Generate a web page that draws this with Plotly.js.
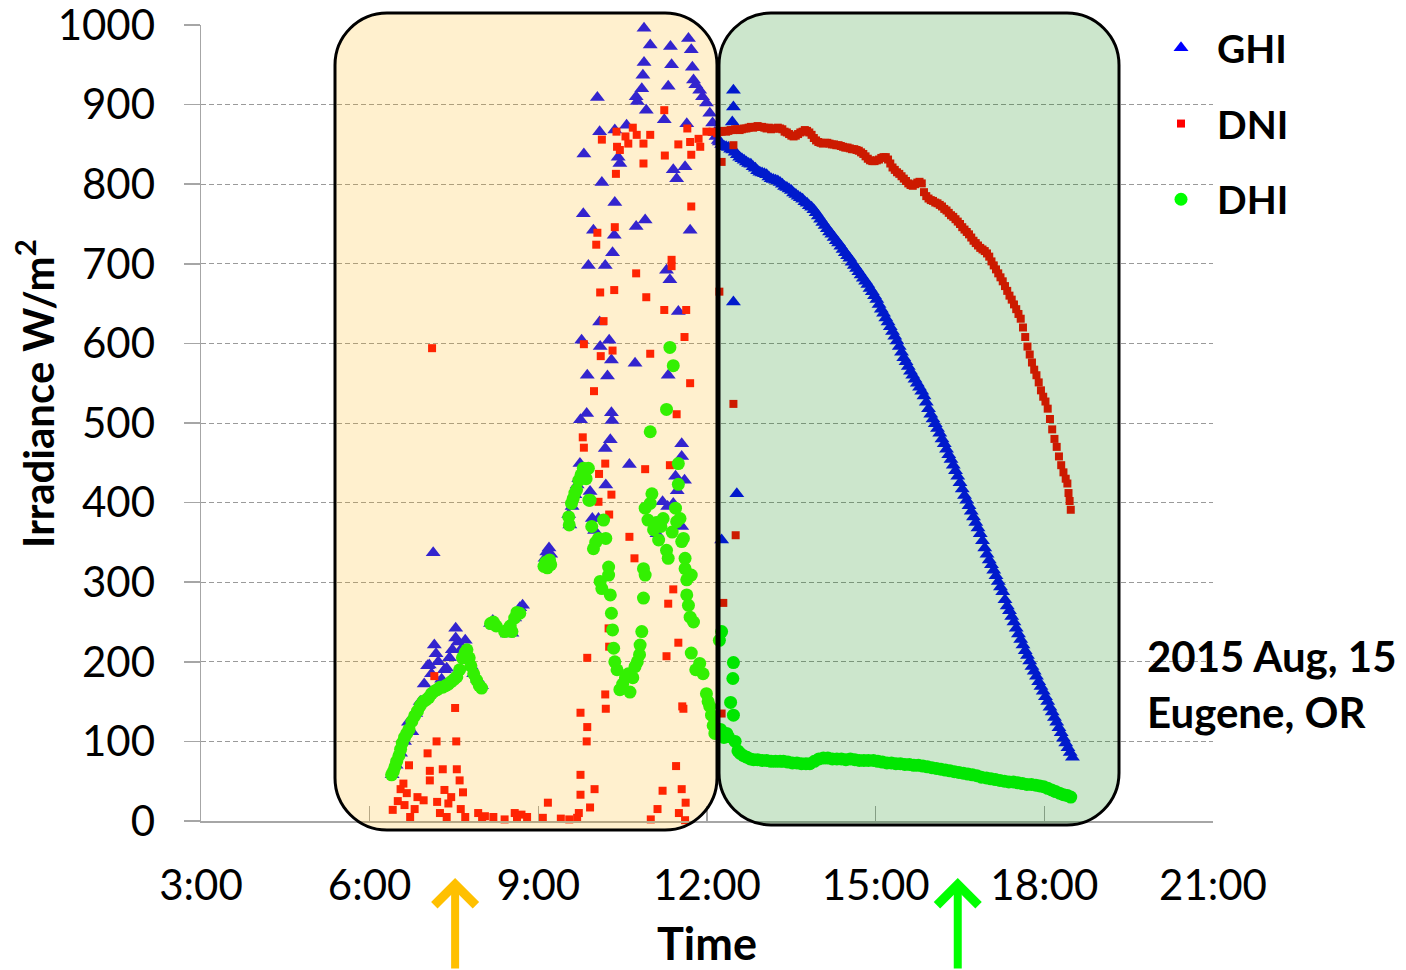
<!DOCTYPE html>
<html>
<head>
<meta charset="utf-8">
<script src="https://cdn.plot.ly/plotly-3.0.1.min.js"></script>
<style>html,body{margin:0;padding:0;background:#fff;}#chart{width:1406px;height:970px;}</style>
</head>
<body>
<div id="chart"></div>
<script>
// ---- tick labels ----
const xTickVals = [3, 6, 9, 12, 15, 18, 21];
const xTickText = ['3:00', '6:00', '9:00', '12:00', '15:00', '18:00', '21:00'];
const seriesNames = ['GHI', 'DNI', 'DHI'];

// ---- data: [time in decimal hours, irradiance W/m2] ----
const ghiPoints = [
 [6.40,58],[6.47,70],[6.55,85],[6.62,100],[6.69,124],[6.75,112],[6.82,135],[6.90,150],[6.97,172],[7.03,195],
 [7.06,196],[7.10,185],[7.13,337],[7.15,221],[7.18,210],[7.22,200],[7.28,178],[7.33,190],[7.37,192],[7.42,205],
 [7.47,215],[7.53,242],[7.53,230],[7.57,225],[7.62,215],[7.70,227],[7.73,205],[7.80,195],[7.85,185],[7.92,178],
 [7.99,170],[8.15,248],[8.19,252],[8.23,245],[8.45,235],[8.50,240],[8.53,236],[8.58,255],[8.62,262],[8.67,268],
 [8.72,271],[9.12,330],[9.15,338],[9.19,343],[9.22,335],[9.54,385],[9.56,372],[9.60,395],[9.65,410],[9.69,422],
 [9.72,430],[9.74,449],[9.75,504],[9.77,604],[9.80,763],[9.81,838],[9.86,512],[9.87,560],[9.89,698],[9.92,414],
 [9.96,380],[9.98,742],[10.00,365],[10.05,909],[10.07,380],[10.09,866],[10.09,627],[10.10,596],[10.13,802],[10.19,698],
 [10.19,468],[10.20,422],[10.23,559],[10.26,604],[10.28,479],[10.30,579],[10.30,513],[10.31,503],[10.32,714],[10.35,736],
 [10.36,868],[10.36,777],[10.42,834],[10.45,826],[10.57,874],[10.62,448],[10.72,575],[10.74,910],[10.74,747],[10.76,904],
 [10.84,920],[10.86,937],[10.88,953],[10.88,996],[10.90,755],[10.92,893],[10.99,975],[11.11,361],[11.18,378],[11.21,401],
 [11.24,881],[11.28,692],[11.30,395],[11.31,923],[11.31,560],[11.34,680],[11.35,973],[11.37,950],[11.40,399],[11.40,818],
 [11.44,433],[11.46,807],[11.47,415],[11.49,640],[11.55,474],[11.55,458],[11.55,370],[11.60,428],[11.61,822],[11.64,876],
 [11.67,983],[11.70,742],[11.72,969],[11.74,947],[11.76,931],[11.80,925],[11.87,918],[11.92,910],[11.99,902],[12.05,889],
 [12.10,877],[12.14,865],[12.16,860],[12.20,855],[12.26,353],[12.45,878],[12.47,918],[12.47,897],[12.47,652],[12.53,411],
 [12.22,853],[12.26,850],[12.30,848],[12.34,847],[12.38,846],[12.42,844],[12.46,843],[12.50,840],[12.54,837],[12.58,834],
 [12.62,832],[12.66,830],[12.70,828],[12.74,826],[12.78,825],[12.82,822],[12.86,820],[12.90,817],[12.94,815],[12.98,814],
 [13.02,813],[13.06,812],[13.10,809],[13.14,807],[13.18,806],[13.22,805],[13.26,804],[13.30,802],[13.34,800],[13.38,797],
 [13.42,796],[13.46,794],[13.50,792],[13.54,789],[13.58,787],[13.62,785],[13.66,783],[13.70,781],[13.74,778],[13.78,776],
 [13.82,773],[13.86,771],[13.90,768],[13.94,764],[13.98,760],[14.02,756],[14.06,752],[14.10,748],[14.14,744],[14.18,740],
 [14.22,737],[14.26,733],[14.30,729],[14.34,726],[14.38,722],[14.42,718],[14.46,714],[14.50,710],[14.54,707],[14.58,702],
 [14.62,698],[14.66,694],[14.70,690],[14.74,686],[14.78,682],[14.82,678],[14.86,674],[14.90,669],[14.94,665],[14.98,660],
 [15.02,655],[15.06,649],[15.10,643],[15.14,638],[15.18,632],[15.22,627],[15.26,621],[15.30,615],[15.34,609],[15.38,603],
 [15.42,596],[15.46,589],[15.50,582],[15.54,577],[15.58,571],[15.62,565],[15.66,560],[15.70,555],[15.74,550],[15.78,545],
 [15.82,540],[15.86,534],[15.90,526],[15.94,518],[15.98,511],[16.02,505],[16.06,499],[16.10,493],[16.14,487],[16.18,480],
 [16.22,474],[16.26,467],[16.30,460],[16.34,454],[16.38,447],[16.42,440],[16.46,433],[16.50,425],[16.54,417],[16.58,409],
 [16.62,403],[16.66,396],[16.70,389],[16.74,382],[16.78,375],[16.82,368],[16.86,361],[16.90,352],[16.94,343],[16.98,335],
 [17.02,328],[17.06,322],[17.10,315],[17.14,308],[17.18,301],[17.22,294],[17.26,288],[17.30,278],[17.34,270],[17.38,264],
 [17.42,257],[17.46,250],[17.50,242],[17.54,235],[17.58,228],[17.62,221],[17.66,214],[17.70,208],[17.74,201],[17.78,194],
 [17.82,188],[17.86,182],[17.90,175],[17.94,169],[17.98,163],[18.02,156],[18.06,150],[18.10,143],[18.14,137],[18.18,130],
 [18.22,124],[18.26,117],[18.30,111],[18.34,104],[18.38,98],[18.42,92],[18.46,86],[18.50,80]
];

const dniPoints = [
 [6.41,14],[6.50,25],[6.55,40],[6.60,47],[6.62,20],[6.66,35],[6.70,70],[6.72,5],[6.80,15],[6.85,30],
 [6.96,26],[7.03,85],[7.07,63],[7.07,51],[7.11,594],[7.15,182],[7.19,100],[7.20,24],[7.25,10],[7.30,65],
 [7.33,39],[7.37,5],[7.40,22],[7.45,30],[7.52,142],[7.54,100],[7.55,65],[7.60,51],[7.62,15],[7.66,36],
 [7.70,5],[7.93,10],[8.00,3],[8.05,6],[8.20,5],[8.40,2],[8.58,10],[8.62,4],[8.70,8],[8.80,5],
 [9.08,4],[9.17,23],[9.40,3],[9.55,2],[9.69,4],[9.72,10],[9.75,33],[9.75,58],[9.75,136],[9.79,482],
 [9.81,469],[9.81,599],[9.87,205],[9.87,118],[9.86,100],[9.92,17],[9.99,540],[10.00,40],[10.03,724],[10.05,739],
 [10.07,401],[10.08,436],[10.10,664],[10.11,584],[10.13,856],[10.16,628],[10.19,449],[10.19,159],[10.20,141],[10.25,242],
 [10.26,385],[10.26,219],[10.30,410],[10.32,591],[10.35,667],[10.36,746],[10.38,813],[10.39,866],[10.40,847],[10.45,843],
 [10.55,860],[10.60,851],[10.62,357],[10.68,871],[10.71,330],[10.74,688],[10.75,862],[10.87,826],[10.87,851],[10.90,442],
 [10.92,658],[10.99,587],[10.99,862],[11.00,2],[11.12,15],[11.21,38],[11.24,642],[11.24,893],[11.25,836],[11.28,207],
 [11.31,273],[11.34,447],[11.37,705],[11.37,697],[11.40,291],[11.45,69],[11.46,511],[11.49,850],[11.49,224],[11.50,10],
 [11.55,40],[11.56,144],[11.58,141],[11.60,608],[11.61,1],[11.62,23],[11.63,642],[11.65,870],[11.70,550],[11.70,853],
 [11.72,772],[11.72,837],[11.85,857],[11.88,847],[11.99,866],[12.10,866],[12.22,665],[12.26,135],[12.29,274],[12.26,828],
 [12.47,524],[12.51,359],[12.47,849],
 [12.18,864],[12.22,866],[12.26,866],[12.30,867],[12.34,866],[12.38,867],[12.42,868],[12.46,868],[12.50,869],[12.54,869],
 [12.58,868],[12.62,869],[12.66,870],[12.70,870],[12.74,871],[12.78,872],[12.82,871],[12.86,872],[12.90,873],[12.94,872],
 [12.98,872],[13.02,871],[13.06,870],[13.10,871],[13.14,869],[13.18,870],[13.22,870],[13.26,871],[13.30,870],[13.34,869],
 [13.38,866],[13.42,865],[13.46,863],[13.50,861],[13.54,860],[13.58,861],[13.62,863],[13.66,865],[13.70,866],[13.74,868],
 [13.78,867],[13.82,865],[13.86,862],[13.90,858],[13.94,855],[13.98,853],[14.02,852],[14.06,851],[14.10,852],[14.14,852],
 [14.18,851],[14.22,850],[14.26,850],[14.30,849],[14.34,849],[14.38,848],[14.42,847],[14.46,846],[14.50,846],[14.54,845],
 [14.58,844],[14.62,844],[14.66,843],[14.70,842],[14.74,840],[14.78,838],[14.82,835],[14.86,832],[14.90,830],[14.94,829],
 [14.98,829],[15.02,830],[15.06,831],[15.10,833],[15.14,834],[15.18,834],[15.22,831],[15.26,826],[15.30,821],[15.34,818],
 [15.38,815],[15.42,813],[15.46,810],[15.50,807],[15.54,804],[15.58,801],[15.62,799],[15.66,798],[15.70,800],[15.74,802],
 [15.78,803],[15.82,801],[15.86,790],[15.90,785],[15.94,782],[15.98,780],[16.02,779],[16.06,777],[16.10,776],[16.14,774],
 [16.18,772],[16.22,769],[16.26,767],[16.30,764],[16.34,761],[16.38,759],[16.42,756],[16.46,753],[16.50,750],[16.54,746],
 [16.58,743],[16.62,740],[16.66,737],[16.70,733],[16.74,729],[16.78,726],[16.82,723],[16.86,720],[16.90,718],[16.94,716],
 [16.98,713],[17.02,709],[17.06,703],[17.10,698],[17.14,693],[17.18,688],[17.22,683],[17.26,678],[17.30,672],[17.34,666],
 [17.38,660],[17.42,655],[17.46,649],[17.50,643],[17.54,637],[17.58,631],[17.62,620],[17.66,608],[17.70,596],[17.74,586],
 [17.78,576],[17.82,567],[17.86,560],[17.90,551],[17.94,541],[17.98,533],[18.02,527],[18.06,518],[18.10,505],[18.14,492],
 [18.18,480],[18.22,470],[18.26,458],[18.30,447],[18.34,438],[18.38,430],[18.41,424],[18.43,412],[18.45,402],[18.47,391]
];

const dhiPoints = [
 [6.39,58],[6.42,62],[6.45,68],[6.48,75],[6.52,82],[6.55,90],[6.58,98],[6.62,105],[6.66,110],[6.70,115],
 [6.75,125],[6.80,132],[6.85,138],[6.90,145],[6.95,150],[7.00,152],[7.05,155],[7.10,160],[7.15,163],[7.20,165],
 [7.25,168],[7.30,168],[7.35,170],[7.40,172],[7.45,175],[7.50,178],[7.55,181],[7.60,190],[7.65,205],[7.70,212],
 [7.73,215],[7.77,205],[7.80,195],[7.85,185],[7.90,177],[7.95,170],[7.99,167],[8.15,248],[8.20,250],[8.25,245],
 [8.40,238],[8.45,240],[8.50,245],[8.53,238],[8.58,255],[8.62,262],[8.67,261],[9.10,320],[9.13,325],[9.16,318],
 [9.20,328],[9.22,322],[9.54,382],[9.55,372],[9.59,399],[9.62,405],[9.65,412],[9.68,416],[9.72,428],[9.76,435],
 [9.80,443],[9.85,430],[9.89,443],[9.90,403],[9.92,403],[9.95,370],[9.98,342],[10.02,350],[10.07,355],[10.10,301],
 [10.13,292],[10.16,378],[10.20,355],[10.25,309],[10.25,319],[10.28,284],[10.30,261],[10.32,240],[10.34,217],[10.36,200],
 [10.40,190],[10.45,165],[10.50,172],[10.55,180],[10.60,185],[10.63,162],[10.68,180],[10.72,194],[10.76,200],[10.80,209],
 [10.81,221],[10.84,238],[10.87,280],[10.87,317],[10.90,309],[10.90,393],[10.95,378],[10.99,399],[10.99,489],[11.02,411],
 [11.05,366],[11.10,375],[11.14,353],[11.18,370],[11.22,380],[11.28,517],[11.28,340],[11.31,330],[11.34,595],[11.38,363],
 [11.40,572],[11.44,393],[11.46,376],[11.49,449],[11.49,423],[11.52,380],[11.55,351],[11.58,355],[11.61,330],[11.61,317],
 [11.64,303],[11.64,284],[11.67,271],[11.70,256],[11.72,309],[11.72,211],[11.76,250],[11.80,190],[11.87,198],[11.93,185],
 [11.99,160],[12.02,150],[12.05,144],[12.08,133],[12.11,120],[12.14,110],[12.26,238],[12.22,227],[12.24,115],[12.30,105],
 [12.35,110],[12.38,106],[12.42,149],[12.47,199],[12.46,179],[12.47,133],[12.50,100],
 [12.55,88],[12.59,85],[12.65,82],[12.71,80],[12.77,78],[12.83,77],[12.90,77],[12.98,76],[13.06,76],[13.14,75],
 [13.22,75],[13.30,75],[13.36,75],[13.44,74],[13.52,73],[13.60,73],[13.68,72],[13.76,72],[13.83,72],[13.91,75],
 [13.99,78],[14.07,79],[14.15,79],[14.23,78],[14.31,78],[14.39,78],[14.47,77],[14.55,78],[14.63,77],[14.71,76],
 [14.79,76],[14.87,76],[14.96,76],[15.04,75],[15.12,74],[15.20,73],[15.28,73],[15.36,72],[15.44,72],[15.52,71],
 [15.60,71],[15.68,70],[15.76,70],[15.84,69],[15.92,68],[16.00,67],[16.08,66],[16.16,65],[16.24,64],[16.32,63],
 [16.40,62],[16.48,61],[16.56,60],[16.64,59],[16.72,58],[16.80,57],[16.88,55],[16.97,54],[17.05,53],[17.13,52],
 [17.21,51],[17.29,50],[17.37,49],[17.45,49],[17.53,48],[17.61,47],[17.69,46],[17.77,46],[17.85,45],[17.92,44],
 [17.99,43],[18.06,41],[18.13,39],[18.20,37],[18.27,35],[18.34,33],[18.41,32],[18.47,30]
];

// ---- layout geometry (pixels) ----
const PL = 201, PT = 25, PW = 1012, PH = 796;
const px2x = p => (p - PL) / PW;
const px2y = p => (PT + PH - p) / PH;

function roundRect(x0, y0, x1, y1, r) {
  const X = px2x, Y = px2y;
  return 'M' + X(x0 + r) + ',' + Y(y0) +
    ' L' + X(x1 - r) + ',' + Y(y0) +
    ' C' + X(x1 - r * 0.45) + ',' + Y(y0) + ' ' + X(x1) + ',' + Y(y0 + r * 0.45) + ' ' + X(x1) + ',' + Y(y0 + r) +
    ' L' + X(x1) + ',' + Y(y1 - r) +
    ' C' + X(x1) + ',' + Y(y1 - r * 0.45) + ' ' + X(x1 - r * 0.45) + ',' + Y(y1) + ' ' + X(x1 - r) + ',' + Y(y1) +
    ' L' + X(x0 + r) + ',' + Y(y1) +
    ' C' + X(x0 + r * 0.45) + ',' + Y(y1) + ' ' + X(x0) + ',' + Y(y1 - r * 0.45) + ' ' + X(x0) + ',' + Y(y1 - r) +
    ' L' + X(x0) + ',' + Y(y0 + r) +
    ' C' + X(x0) + ',' + Y(y0 + r * 0.45) + ' ' + X(x0 + r * 0.45) + ',' + Y(y0) + ' ' + X(x0 + r) + ',' + Y(y0) + ' Z';
}

const FONT = 'Lato, "Open Sans", sans-serif';

function mk(points, name, symbol, size, color, group) {
  return {
    type: 'scatter', mode: 'markers', name: name, legendgroup: group,
    x: points.map(p => p[0]), y: points.map(p => p[1]),
    marker: {symbol: symbol, size: size, color: color, line: {width: 0}},
    cliponaxis: false, hoverinfo: 'x+y'
  };
}

const traces = [
  mk(ghiPoints, seriesNames[0], 'triangle-up', 13, '#0000FF', 'g1'),
  mk(dniPoints, seriesNames[1], 'square', 8, '#FF0000', 'g2'),
  mk(dhiPoints, seriesNames[2], 'circle', 13, '#00FF00', 'g3')
];

const layout = {
  width: 1406, height: 970,
  margin: {l: PL, r: 1406 - PL - PW, t: PT, b: 970 - PT - PH, pad: 0},
  paper_bgcolor: '#ffffff', plot_bgcolor: 'rgba(0,0,0,0)',
  font: {family: FONT, color: '#000'},
  showlegend: true,
  legend: {
    x: px2x(1145), y: px2y(16), xanchor: 'left', yanchor: 'top',
    font: {family: FONT, size: 39, color: '#000', weight: 'bold'},
    tracegroupgap: 22, bgcolor: 'rgba(0,0,0,0)', itemsizing: 'trace', itemwidth: 62
  },
  xaxis: {
    range: [3, 21], tickmode: 'array', tickvals: xTickVals, ticktext: xTickText,
    ticks: 'inside', ticklen: 15, tickwidth: 1.5, tickcolor: '#a6a6a6',
    showline: true, linecolor: '#a6a6a6', linewidth: 1.5,
    showgrid: false, zeroline: false,
    tickfont: {family: FONT, size: 42, color: '#000'},
    ticklabelstandoff: 27, ticklabeloverflow: 'allow',
    title: {text: 'Time', font: {family: FONT, size: 45, color: '#000', weight: 'bold'}, standoff: 24}
  },
  yaxis: {
    range: [0, 1000], dtick: 100, tick0: 0,
    ticks: 'outside', ticklen: 16, tickwidth: 1.5, tickcolor: '#a6a6a6',
    showline: true, linecolor: '#a6a6a6', linewidth: 1.5,
    showgrid: true, gridcolor: '#9a9a9a', gridwidth: 1, griddash: '5px,3px',
    zeroline: false,
    tickfont: {family: FONT, size: 42, color: '#000'},
    ticklabelstandoff: 20, ticklabeloverflow: 'allow'
  },
  shapes: [
    {type: 'path', xref: 'paper', yref: 'paper', layer: 'above', path: roundRect(335, 13, 717, 830, 52),
     fillcolor: 'rgba(255,180,10,0.20)', line: {color: '#000', width: 3}},
    {type: 'path', xref: 'paper', yref: 'paper', layer: 'above', path: roundRect(719, 13, 1119, 825, 52),
     fillcolor: 'rgba(0,128,0,0.20)', line: {color: '#000', width: 3}}
  ],
  annotations: [
    {xref: 'paper', yref: 'paper', x: px2x(35), y: px2y(394), xanchor: 'center', yanchor: 'middle', showarrow: false,
     textangle: -90, text: 'Irradiance W/m<sup>2</sup>', font: {family: FONT, size: 42, color: '#000', weight: 'bold'}},
    {xref: 'paper', yref: 'paper', x: px2x(1145), y: px2y(656), xanchor: 'left', yanchor: 'middle', showarrow: false,
     text: '2015 Aug, 15', font: {family: FONT, size: 42, color: '#000', weight: 'bold'}},
    {xref: 'paper', yref: 'paper', x: px2x(1145), y: px2y(712), xanchor: 'left', yanchor: 'middle', showarrow: false,
     text: 'Eugene, OR', font: {family: FONT, size: 42, color: '#000', weight: 'bold'}},
    {xref: 'x', yref: 'paper', x: 7.52, y: px2y(878), text: '', showarrow: true, axref: 'pixel', ayref: 'pixel',
     ax: 0, ay: 100, arrowhead: 4, arrowsize: 1, arrowwidth: 8, arrowcolor: '#FFC000', standoff: 0},
    {xref: 'x', yref: 'paper', x: 16.46, y: px2y(878), text: '', showarrow: true, axref: 'pixel', ayref: 'pixel',
     ax: 0, ay: 100, arrowhead: 4, arrowsize: 1, arrowwidth: 8, arrowcolor: '#00FF00', standoff: 0}
  ]
};

Plotly.newPlot('chart', traces, layout, {displayModeBar: false, staticPlot: true});
</script>
</body>
</html>
